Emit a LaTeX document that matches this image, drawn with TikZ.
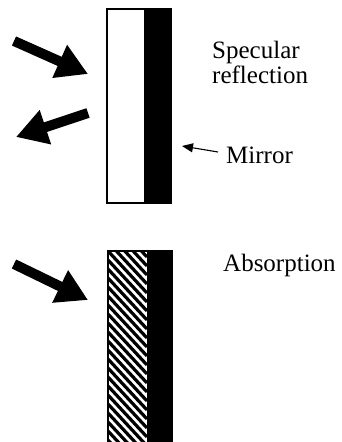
\documentclass[tikz,border=0pt]{standalone}
\usepackage{fontspec}
\setmainfont{Liberation Serif}
\usetikzlibrary{arrows.meta}
\begin{document}
\begin{tikzpicture}[x=1pt,y=-1pt,
  fatarrow/.style={line width=10pt,-{Triangle[length=31pt,width=34pt]}},
  thinarrow/.style={line width=1.1pt,-{Triangle[length=11pt,width=9pt]}},
  lbl/.style={anchor=base west,inner sep=0pt,font=\fontsize{25}{28}\selectfont}]
\useasboundingbox (0,0) rectangle (342,442);
% top panel
\fill[black] (144,9) rectangle (171,203);
\draw[line width=1.2pt] (107,9) rectangle (171,203);
% bottom panel
\begin{scope}
\clip (108,251) rectangle (147,442);
\foreach \k in {-5,...,22} {
  \draw[line width=3.2pt] (108,251+9*\k) -- (147,251+9*\k+42);
}
\end{scope}
\fill[black] (147,251) rectangle (172,442);
\draw[line width=1.2pt] (108,442) -- (108,251) -- (172,251) -- (172,442);
% arrows
\coordinate (inA) at (14,41);
\coordinate (inB) at (88,74);
\coordinate (outA) at (88,113);
\coordinate (outB) at (16,137);
\coordinate (abA) at (14,264);
\coordinate (abB) at (88,300);
\coordinate (mA) at (218,152);
\coordinate (mB) at (182,146);
\draw[fatarrow] (inA) -- (inB);
\draw[fatarrow] (outA) -- (outB);
\draw[fatarrow] (abA) -- (abB);
\draw[thinarrow] (mA) -- (mB);
% labels
\node[lbl] (spec) at (212,58) {Specular};
\node[lbl] (refl) at (212,83) {reflection};
\node[lbl] (mir) at (226,163) {Mirror};
\node[lbl] (abs) at (223,271) {Absorption};
\end{tikzpicture}
\end{document}
